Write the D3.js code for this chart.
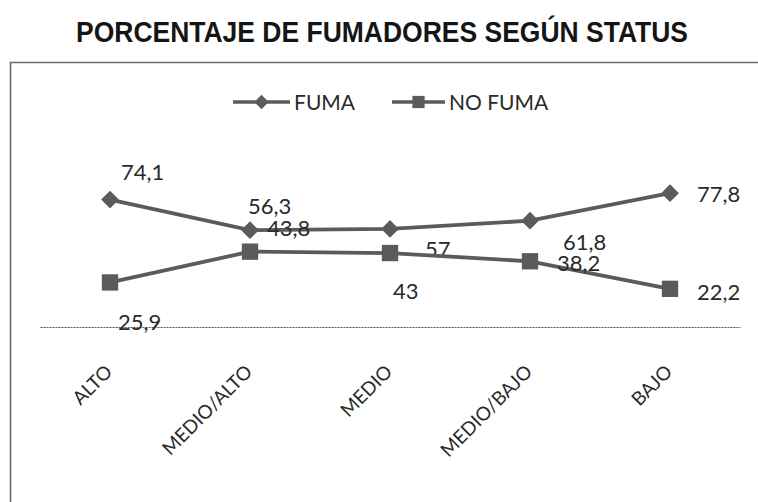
<!DOCTYPE html>
<html>
<head>
<meta charset="utf-8">
<script src="https://cdn.jsdelivr.net/npm/d3@7"></script>
<style>
  html, body { margin: 0; padding: 0; background: #fff; }
  svg { display: block; }
  .title { font-family: "Liberation Sans Narrow", "Liberation Sans", Arial, sans-serif; font-weight: bold; }
  .lbl, .legend text, .x-axis text { font-family: Lato, "Open Sans", sans-serif; fill: #2a2a2a; }
</style>
</head>
<body>
<svg id="chart" width="758" height="502"></svg>
<script>
// datos del gráfico
const categories = ['ALTO', 'MEDIO/ALTO', 'MEDIO', 'MEDIO/BAJO', 'BAJO'];
const fuma = [74.1, 56.3, 57, 61.8, 77.8];
const noFuma = [25.9, 43.8, 43, 38.2, 22.2];
const seriesNames = ['FUMA', 'NO FUMA'];

// desplazamiento de las etiquetas (a mano, como en el original)
const fumaLabelOffset = [[11, -20], [-2, -16], [35, 28], [33, 29], [27, 9]];
const noFumaLabelOffset = [[8, 48], [17, -16], [3, 46], [27, 10], [27, 11]];

const svg = d3.select('#chart');
const lineColor = '#5b5b5b';

// título
svg.append('text')
  .attr('class', 'title')
  .attr('x', 382)
  .attr('y', 42)
  .attr('text-anchor', 'middle')
  .attr('font-size', 29)
  .attr('fill', '#151515')
  .attr('textLength', 612)
  .attr('lengthAdjust', 'spacingAndGlyphs')
  .text('PORCENTAJE DE FUMADORES SEGÚN STATUS');

// marco (solo se ven los lados superior e izquierdo)
svg.append('path')
  .attr('d', 'M10.5,502V62.5H758')
  .attr('fill', 'none')
  .attr('stroke', '#6a6a6a')
  .attr('stroke-width', 1.6);

const x = d3.scalePoint().domain(categories).range([40, 740]).padding(0.5);
const y = d3.scaleLinear().domain([0, 100]).range([327, 155]);

// eje x
const xAxis = svg.append('g')
  .attr('class', 'x-axis')
  .attr('transform', `translate(0,${y(0)})`)
  .call(d3.axisBottom(x).tickSize(0).tickSizeOuter(0));

xAxis.select('.domain')
  .attr('stroke', '#555')
  .attr('stroke-width', 1)
  .attr('stroke-dasharray', '2,1');

xAxis.selectAll('.tick text')
  .attr('x', 0).attr('y', 0).attr('dy', 0)
  .attr('font-size', 19)
  .attr('text-anchor', 'end')
  .attr('transform', 'translate(3,46) rotate(-45)');

const line = d3.line()
  .x((d, i) => x(categories[i]))
  .y(d => y(d));

const diamond = d3.symbol().type(d3.symbolDiamond2);
const square = d3.symbol().type(d3.symbolSquare2);

function drawSeries(values, offsets, symbolGen, size) {
  const g = svg.append('g');
  g.append('path')
    .datum(values)
    .attr('fill', 'none')
    .attr('stroke', lineColor)
    .attr('stroke-width', 3.8)
    .attr('d', line);

  g.selectAll('path.mk')
    .data(values)
    .join('path')
    .attr('class', 'mk')
    .attr('transform', (d, i) => `translate(${x(categories[i])},${y(d)})`)
    .attr('d', symbolGen.size(size)())
    .attr('fill', lineColor);

  g.selectAll('text.lbl')
    .data(values)
    .join('text')
    .attr('class', 'lbl')
    .attr('x', (d, i) => x(categories[i]) + offsets[i][0])
    .attr('y', (d, i) => y(d) + offsets[i][1])
    .attr('font-size', 22)
    .text(d => String(d).replace('.', ','));
}

drawSeries(fuma, fumaLabelOffset, diamond, 200);
drawSeries(noFuma, noFumaLabelOffset, square, 340);

// leyenda
const legend = svg.append('g').attr('class', 'legend');
const legendItems = [
  { name: seriesNames[0], x0: 233, x1: 290, sym: diamond, size: 130 },
  { name: seriesNames[1], x0: 392, x1: 445, sym: square, size: 190 }
];
legendItems.forEach(it => {
  const ly = 102;
  legend.append('line')
    .attr('x1', it.x0).attr('x2', it.x1)
    .attr('y1', ly).attr('y2', ly)
    .attr('stroke', lineColor)
    .attr('stroke-width', 3.5);
  legend.append('path')
    .attr('transform', `translate(${(it.x0 + it.x1) / 2},${ly})`)
    .attr('d', it.sym.size(it.size)())
    .attr('fill', lineColor);
  legend.append('text')
    .attr('x', it.x1 + 4)
    .attr('y', ly + 8)
    .attr('font-size', 21)
    .text(it.name);
});
</script>
</body>
</html>
